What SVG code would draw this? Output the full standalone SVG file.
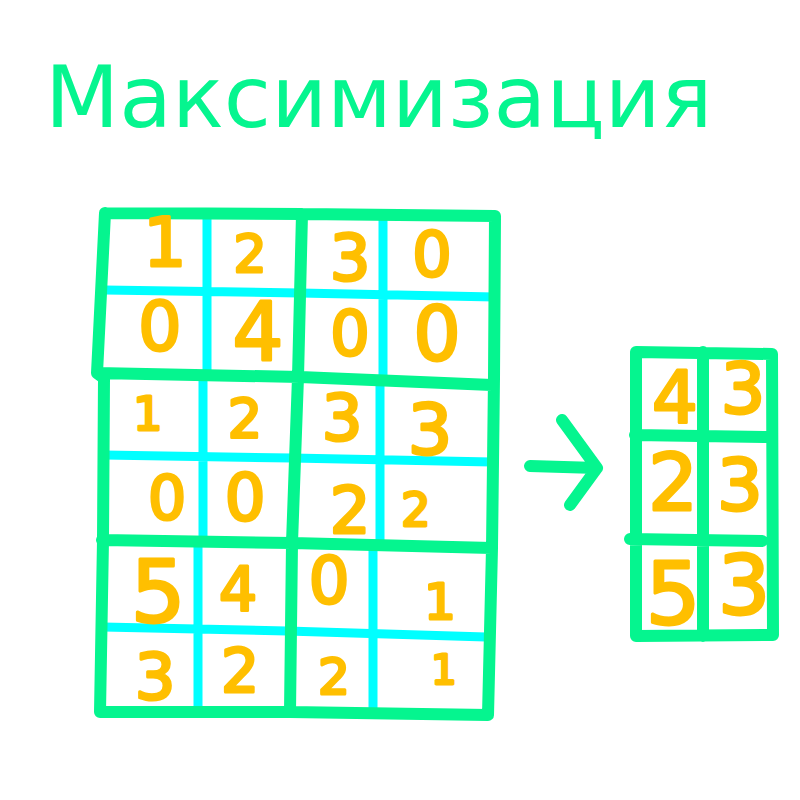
<svg xmlns="http://www.w3.org/2000/svg" width="800" height="800" viewBox="0 0 800 800">
<style>
.g{fill:none;stroke:#05F58F;stroke-width:12;stroke-linecap:round;stroke-linejoin:round}
.c{fill:none;stroke:#00FFFF;stroke-width:9;stroke-linecap:butt}
.d{font-family:"DejaVu Sans",sans-serif;fill:#FFBF00;stroke:#FFBF00;stroke-width:3;stroke-linejoin:round;text-anchor:middle}
.t{font-family:"DejaVu Sans",sans-serif;fill:#05F58F;font-size:86px}
</style>
<rect width="800" height="800" fill="#fff"/>
<text class="t" x="45" y="127">Максимизация</text>
<g id="input-grid">
<path class="c" d="M207 218V375M383 220V382M105 290L300 293L495 297M203 380V540M380 385V545M104 455L292 458L492 462M198 546V712M373 548V714M103 627L287 631L486 637"/>
<path class="g" d="M105 213L302 214L495 216L494 378L492 548L488 715L290 712L100 712L103 540L104 378L97 373L105 213M97 373L300 377L492 385M102 540L292 543L492 548M302 214L298 377L292 543L290 712"/>
</g>
<g id="input-values">
<text class="d" x="165" y="266" font-size="68">1</text>
<text class="d" x="250" y="272" font-size="52">2</text>
<text class="d" x="350" y="280" font-size="64">3</text>
<text class="d" x="432" y="276" font-size="62">0</text>
<text class="d" x="160" y="350" font-size="68">0</text>
<text class="d" x="258" y="360" font-size="80">4</text>
<text class="d" x="350" y="355" font-size="62">0</text>
<text class="d" x="437" y="360" font-size="74">0</text>
<text class="d" x="148" y="430" font-size="46">1</text>
<text class="d" x="245" y="437" font-size="54">2</text>
<text class="d" x="342" y="440" font-size="64">3</text>
<text class="d" x="430" y="454" font-size="70">3</text>
<text class="d" x="167" y="519" font-size="60">0</text>
<text class="d" x="245" y="520" font-size="64">0</text>
<text class="d" x="350" y="533" font-size="64">2</text>
<text class="d" x="416" y="526" font-size="46">2</text>
<text class="d" x="158" y="622" font-size="86">5</text>
<text class="d" x="238" y="610" font-size="60">4</text>
<text class="d" x="329" y="603" font-size="64">0</text>
<text class="d" x="440" y="619" font-size="50">1</text>
<text class="d" x="155" y="699" font-size="64">3</text>
<text class="d" x="240" y="692" font-size="60">2</text>
<text class="d" x="334" y="694" font-size="50">2</text>
<text class="d" x="444" y="684" font-size="40">1</text>
</g>
<g id="connectors">
<path class="g" d="M530 466L597 468M562 420L597 468L570 505"/>
</g>
<g id="output-grid">
<path class="g" d="M636 352L772 354L773 635L636 636L636 352M703 352L703 636M635 435L768 437M630 539L762 541"/>
</g>
<g id="output-values">
<text class="d" x="675" y="422" font-size="72">4</text>
<text class="d" x="743" y="413" font-size="70">3</text>
<text class="d" x="673" y="510" font-size="78">2</text>
<text class="d" x="740" y="510" font-size="72">3</text>
<text class="d" x="673" y="624" font-size="86">5</text>
<text class="d" x="744" y="614" font-size="82">3</text>
</g>
</svg>
